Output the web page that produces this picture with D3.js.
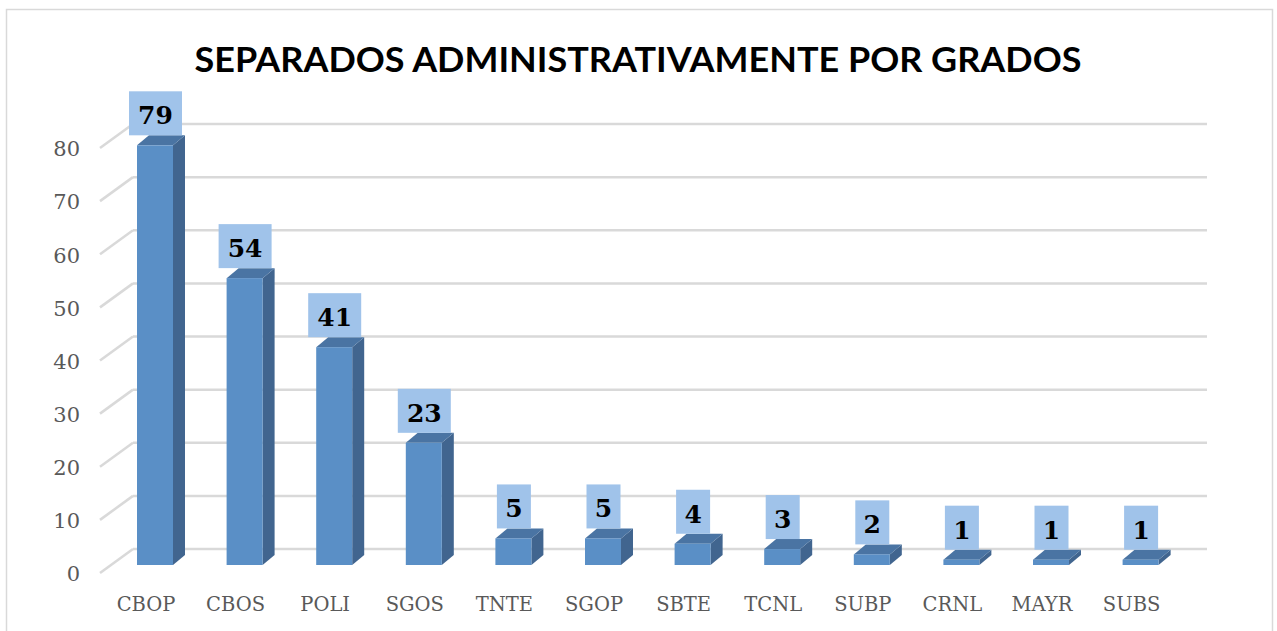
<!DOCTYPE html>
<html>
<head>
<meta charset="utf-8">
<script src="https://cdn.jsdelivr.net/npm/d3@7"></script>
<style>
  body { margin: 0; background: #fff; }
</style>
</head>
<body>
<div id="chart"></div>
<script>
// chart data
const grados = ["CBOP", "CBOS", "POLI", "SGOS", "TNTE", "SGOP", "SBTE", "TCNL", "SUBP", "CRNL", "MAYR", "SUBS"];
const separados = [79, 54, 41, 23, 5, 5, 4, 3, 2, 1, 1, 1];
const yTicks = [0, 10, 20, 30, 40, 50, 60, 70, 80];
const titulo = "SEPARADOS ADMINISTRATIVAMENTE POR GRADOS";

const width = 1277, height = 631;

const svg = d3.select("#chart").append("svg")
    .attr("width", width)
    .attr("height", height);

// outer chart border
svg.append("rect")
    .attr("x", 6.5).attr("y", 9.5)
    .attr("width", 1266).attr("height", 640)
    .attr("fill", "#fff")
    .attr("stroke", "#d9d9d9")
    .attr("stroke-width", 1.5);

// title
svg.append("text")
    .attr("x", 638).attr("y", 72)
    .attr("text-anchor", "middle")
    .attr("font-family", "Lato, 'Open Sans', sans-serif")
    .attr("font-weight", "bold")
    .attr("font-size", 35)
    .attr("textLength", 887)
    .attr("lengthAdjust", "spacingAndGlyphs")
    .attr("fill", "#000")
    .text(titulo);

// scales: back wall and bar positions
const y = d3.scaleLinear().domain([0, 80]).range([549, 124]);
const x = d3.scalePoint().domain(grados).range([155, 1140.6]);

const wallLeft = 133, wallRight = 1207;
const depthX = -33, depthY = 24;   // perspective offset of the wall's side
const barW = 36, barDX = 12, barDY = -10, barShift = 16;

// gridlines on the back wall + diagonal side lines
const grid = svg.append("g");
yTicks.forEach(t => {
    grid.append("line")
        .attr("x1", wallLeft).attr("x2", wallRight)
        .attr("y1", y(t)).attr("y2", y(t))
        .attr("stroke", "#d9d9d9").attr("stroke-width", 2.5);
    grid.append("line")
        .attr("x1", wallLeft + depthX).attr("y1", y(t) + depthY)
        .attr("x2", wallLeft).attr("y2", y(t))
        .attr("stroke", "#d9d9d9").attr("stroke-width", 2.5);
    grid.append("text")
        .attr("x", 80)
        .attr("y", y(t) + depthY + 1)
        .attr("dy", "0.35em")
        .attr("text-anchor", "end")
        .attr("font-family", "'DejaVu Serif', serif")
        .attr("font-size", 21)
        .attr("fill", "#595959")
        .text(t);
});

// 3D bars
const bars = svg.append("g").selectAll("g")
    .data(grados.map((g, i) => ({ g: g, v: separados[i] })))
    .enter().append("g");

bars.each(function(d) {
    const sel = d3.select(this);
    const x0 = x(d.g) - barW / 2, x1 = x0 + barW;
    const yb = y(0) + barShift, yt = y(d.v) + barShift;
    // side
    sel.append("path")
        .attr("d", `M${x1},${yt} L${x1 + barDX},${yt + barDY} L${x1 + barDX},${yb + barDY} L${x1},${yb} Z`)
        .attr("fill", "#41658f");
    // top
    sel.append("path")
        .attr("d", `M${x0},${yt} L${x0 + barDX},${yt + barDY} L${x1 + barDX},${yt + barDY} L${x1},${yt} Z`)
        .attr("fill", "#4a74a3");
    // front
    sel.append("rect")
        .attr("x", x0).attr("y", yt)
        .attr("width", barW).attr("height", yb - yt)
        .attr("fill", "#5a8fc6");

    // value label with box
    const label = String(d.v);
    const boxW = label.length > 1 ? 53 : 34;
    const boxBottom = yt + barDY;
    sel.append("rect")
        .attr("x", x(d.g) - boxW / 2 + 0.5)
        .attr("y", boxBottom - 44)
        .attr("width", boxW).attr("height", 44)
        .attr("fill", "#a0c3ea");
    sel.append("text")
        .attr("x", x(d.g) + 0.5)
        .attr("y", boxBottom - 11)
        .attr("text-anchor", "middle")
        .attr("font-family", "'DejaVu Serif', serif")
        .attr("font-weight", "bold")
        .attr("font-size", 25)
        .attr("fill", "#000")
        .text(label);
});

// category labels
svg.append("g").selectAll("text")
    .data(grados)
    .enter().append("text")
    .attr("x", d => x(d) - 9)
    .attr("y", 611)
    .attr("text-anchor", "middle")
    .attr("font-family", "'DejaVu Serif', serif")
    .attr("font-size", 19.5)
    .attr("fill", "#595959")
    .text(d => d);
</script>
</body>
</html>
